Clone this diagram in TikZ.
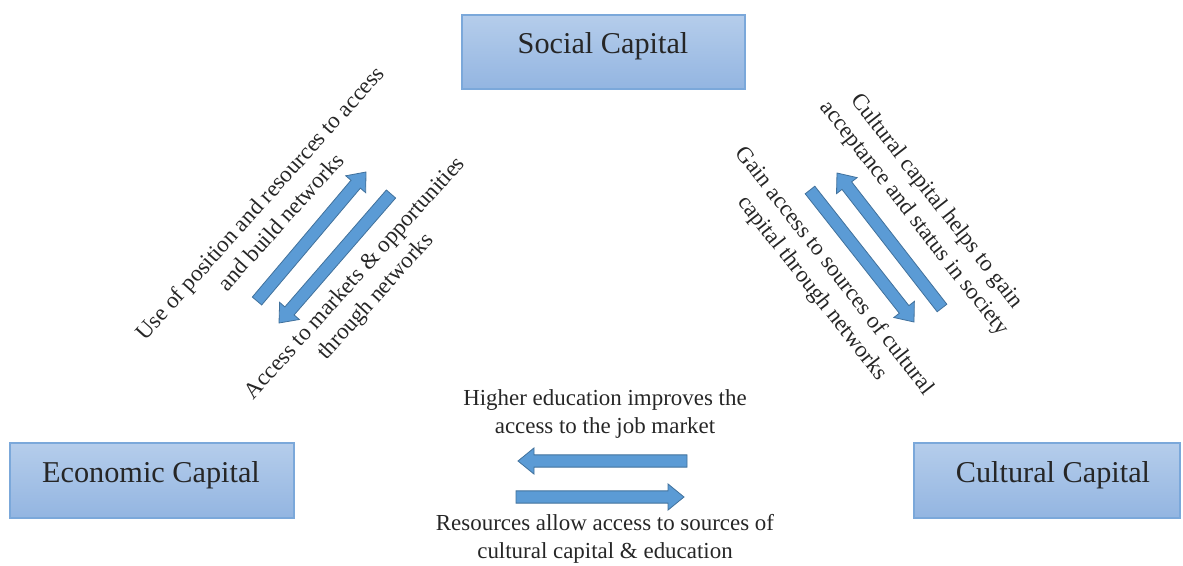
\documentclass[tikz,border=0pt]{standalone}
\usepackage{fontspec}
\setmainfont{Liberation Serif}
\usetikzlibrary{calc}
\definecolor{boxtop}{HTML}{B5CDEB}
\definecolor{boxbot}{HTML}{93B5E1}
\definecolor{boxline}{HTML}{7BA8DA}
\definecolor{arrfill}{HTML}{5B9BD5}
\definecolor{arrline}{HTML}{41719C}
\tikzset{
  capbox/.style={draw=boxline, line width=0.9pt, top color=boxtop, bottom color=boxbot, inner sep=0pt},
  captext/.style={anchor=base, font=\fontsize{22.7}{26}\selectfont, text=black!85},
  lbl/.style={align=center, font=\fontsize{17.2}{21}\selectfont, text=black!85, inner sep=0pt},
  barrow/.style={fill=arrfill, draw=arrline, line width=0.6pt, line join=miter},
}
\newcommand\blockarrow[2]{%
  \path ($(#2)!12pt!(#1)$) coordinate (bb);
  \draw[barrow] ($(#1)!4.6pt!90:(#2)$) -- ($(bb)!4.6pt!90:(#2)$) -- ($(bb)!9.8pt!90:(#2)$) -- (#2)
     -- ($(bb)!9.8pt!-90:(#2)$) -- ($(bb)!4.6pt!-90:(#2)$) -- ($(#1)!4.6pt!-90:(#2)$) -- cycle;
}
\begin{document}
\begin{tikzpicture}[x=0.75pt,y=-0.75pt]
\useasboundingbox (0,0) rectangle (1183,565);
% boxes
\node[capbox, minimum width=283*0.75pt, minimum height=74*0.75pt] (soc) at (603.5,52) {};
\node[captext] (soct) at (603,53) {Social Capital};
\node[capbox, minimum width=284*0.75pt, minimum height=75*0.75pt] (eco) at (152,480.5) {};
\node[captext] (ecot) at (151,482) {Economic Capital};
\node[capbox, minimum width=266*0.75pt, minimum height=75*0.75pt] (cul) at (1047,480.5) {};
\node[captext] (cult) at (1053,482) {Cultural Capital};
% arrow end points
\coordinate (a1t) at (257,301); \coordinate (a1h) at (366,172);
\coordinate (a2t) at (391,194); \coordinate (a2h) at (279,323);
\coordinate (a3t) at (942,308); \coordinate (a3h) at (837,173);
\coordinate (a4t) at (810,190); \coordinate (a4h) at (914,322);
\coordinate (a5t) at (687,461); \coordinate (a5h) at (518,461);
\coordinate (a6t) at (516,497); \coordinate (a6h) at (684,497);
\blockarrow{a1t}{a1h}
\blockarrow{a2t}{a2h}
\blockarrow{a3t}{a3h}
\blockarrow{a4t}{a4h}
\blockarrow{a5t}{a5h}
\blockarrow{a6t}{a6h}
% labels
\node[lbl, rotate=48] (l1) at (270,212) {Use of position and resources to access\\and build networks};
\node[lbl, rotate=48] (l2) at (366,288) {Access to markets \& opportunities\\through networks};
\node[lbl, rotate=-52] (l3) at (925,210) {Cultural capital helps to gain\\acceptance and status in society};
\node[lbl, rotate=-52] (l4) at (823,280) {Gain access to sources of cultural\\capital through networks};
\node[lbl] (l5) at (605,414) {Higher education improves the\\access to the job market};
\node[lbl] (l6) at (605,539) {Resources allow access to sources of\\cultural capital \& education};
\end{tikzpicture}
\end{document}
